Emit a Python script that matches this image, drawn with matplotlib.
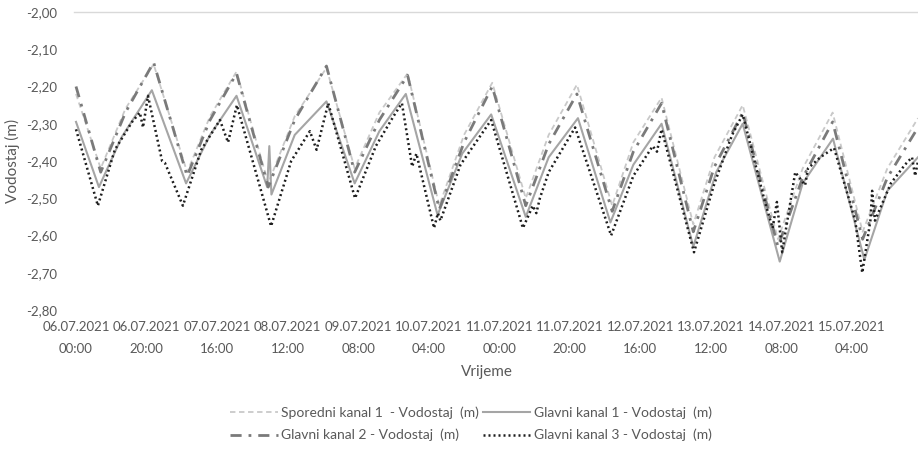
import matplotlib
matplotlib.use("Agg")
import matplotlib.pyplot as plt

plt.rcParams['font.family'] = ['Lato', 'DejaVu Sans']

# time axis in hours from 06.07.2021 00:00
tick_hours = [0, 20, 40, 60, 80, 100, 120, 140, 160, 180, 200, 220]
tick_labels = ["06.07.2021\n00:00", "06.07.2021\n20:00", "07.07.2021\n16:00",
               "08.07.2021\n12:00", "09.07.2021\n08:00", "10.07.2021\n04:00",
               "11.07.2021\n00:00", "11.07.2021\n20:00", "12.07.2021\n16:00",
               "13.07.2021\n12:00", "14.07.2021\n08:00", "15.07.2021\n04:00"]
y_ticks = [-2.8, -2.7, -2.6, -2.5, -2.4, -2.3, -2.2, -2.1, -2.0]
y_labels = ["-2,80", "-2,70", "-2,60", "-2,50", "-2,40", "-2,30", "-2,20", "-2,10", "-2,00"]

# Sporedni kanal 1
sk1_h = [0, 7, 14, 22, 31.5, 38, 45.5, 54.5, 62, 71, 79, 86, 94, 103, 110, 118,
         127.5, 134, 142, 152, 158, 166, 175, 181, 189, 199, 206, 214.5, 223, 230, 238.7]
sk1_v = [-2.22, -2.42, -2.26, -2.14, -2.43, -2.28, -2.16, -2.46, -2.28, -2.15, -2.42, -2.27, -2.165,
         -2.52, -2.33, -2.19, -2.50, -2.33, -2.195, -2.52, -2.35, -2.23, -2.57, -2.39, -2.25,
         -2.61, -2.42, -2.27, -2.59, -2.42, -2.285]

# Glavni kanal 1
gk1_h = [0, 6.5, 13, 21.5, 31.2, 38, 45.5, 54.2, 54.8, 55.4, 62, 71, 79, 86, 93.5, 102.5, 109.5, 117.7,
         127.5, 134, 142.3, 151.5, 158, 166, 175, 181.5, 189, 199.5, 206, 214.6, 223.5, 230, 238.7]
gk1_v = [-2.295, -2.47, -2.335, -2.21, -2.46, -2.33, -2.225, -2.47, -2.36, -2.49, -2.33, -2.24,
         -2.46, -2.32, -2.22, -2.545, -2.38, -2.275, -2.55, -2.39, -2.285, -2.565, -2.41, -2.30,
         -2.63, -2.43, -2.30, -2.67, -2.46, -2.34, -2.665, -2.48, -2.39]

# Glavni kanal 2
gk2_h = [0, 7, 14, 22, 31.5, 38, 45.5, 54.5, 62, 71, 79, 86, 94, 103, 110, 118,
         127.5, 134, 142, 152, 158, 166, 175, 181, 189, 199, 206, 214.5, 223, 230, 238.7]
gk2_v = [-2.20, -2.43, -2.27, -2.135, -2.44, -2.29, -2.165, -2.47, -2.29, -2.145, -2.43, -2.29, -2.17,
         -2.53, -2.35, -2.20, -2.52, -2.355, -2.22, -2.535, -2.375, -2.245, -2.59, -2.415, -2.27,
         -2.63, -2.445, -2.295, -2.61, -2.445, -2.31]

# Glavni kanal 3
gk3_h = [0, 6.2, 11, 15.9, 18.1, 19.0, 20.4, 24.4, 25.2, 30.3, 35.5, 40.8, 43.1, 45.6,
         55.3, 61, 66.3, 68.2, 71.5, 79.1, 85, 90, 92.4, 95.3, 96.5, 101.5, 102.6, 103.3,
         109, 117.7, 126.7, 129.5, 130.5, 131.5, 134, 141.5, 151.7, 158, 163.5, 164.7, 166,
         175.2, 181, 186, 189, 195.3, 197.5, 198.7, 200.2, 203.9, 206.7, 207.5, 211, 214.9,
         220.9, 222.9, 225.2, 225.7, 226.5, 231, 235, 237, 237.9, 238.7]
gk3_v = [-2.315, -2.52, -2.37, -2.295, -2.27, -2.31, -2.225, -2.40, -2.405, -2.52, -2.37, -2.29, -2.35, -2.25,
         -2.575, -2.40, -2.32, -2.37, -2.245, -2.50, -2.36, -2.28, -2.245, -2.415, -2.38, -2.58, -2.54, -2.56,
         -2.41, -2.29, -2.58, -2.52, -2.54, -2.50, -2.43, -2.31, -2.60, -2.44, -2.36, -2.375, -2.315,
         -2.645, -2.46, -2.33, -2.275, -2.51, -2.58, -2.51, -2.645, -2.43, -2.465, -2.42, -2.39, -2.365,
         -2.56, -2.70, -2.56, -2.48, -2.56, -2.46, -2.41, -2.39, -2.44, -2.40]

fig = plt.figure(figsize=(9.18, 4.55), dpi=100)
ax = fig.add_axes([74 / 918, 145 / 455, 844 / 918, 298 / 455])

l1, = ax.plot(sk1_h, sk1_v, color="#c9c9c9", lw=1.3, dashes=(3, 2),
              label="Sporedni kanal 1  - Vodostaj  (m)")
l2, = ax.plot(gk1_h, gk1_v, color="#a5a5a5", lw=1.5, linestyle="-",
              label="Glavni kanal 1 - Vodostaj  (m)")
l3, = ax.plot(gk2_h, gk2_v, color="#7a7a7a", lw=2.0, dashes=(4, 2.5, 1, 2.5),
              label="Glavni kanal 2 - Vodostaj  (m)")
l4, = ax.plot(gk3_h, gk3_v, color="#1e1e1e", lw=1.8, dashes=(0.8, 1.2),
              label="Glavni kanal 3 - Vodostaj  (m)")

ax.set_xlim(-0.57, 238.7)
ax.set_ylim(-2.8, -2.0)
ax.set_xticks(tick_hours)
ax.set_xticklabels(tick_labels)
for lab in ax.get_xticklabels():
    lab.set_linespacing(1.95)
ax.set_yticks(y_ticks)
ax.set_yticklabels(y_labels)
ax.tick_params(length=0, labelsize=9.5, colors="#595959")
ax.tick_params(axis="y", pad=12)
ax.tick_params(axis="x", pad=8)

for s in ["left", "right", "bottom"]:
    ax.spines[s].set_visible(False)
ax.spines["top"].set_color("#d9d9d9")
ax.spines["top"].set_linewidth(1)

ax.set_xlabel("Vrijeme", fontsize=11, color="#595959")
ax.xaxis.set_label_coords(0.489, -0.183)
ax.set_ylabel("Vodostaj (m)", fontsize=11, color="#595959")
ax.yaxis.set_label_coords(-0.064, 0.5)

leg = fig.legend(handles=[l1, l3, l2, l4], ncol=2, loc="center",
                 bbox_to_anchor=(471 / 918, 1 - 424 / 455), frameon=False,
                 fontsize=10, handlelength=3.4, columnspacing=0.3, handletextpad=0.25,
                 labelspacing=0.7)
for t in leg.get_texts():
    t.set_color("#595959")

fig.savefig("out.png", dpi=100)
